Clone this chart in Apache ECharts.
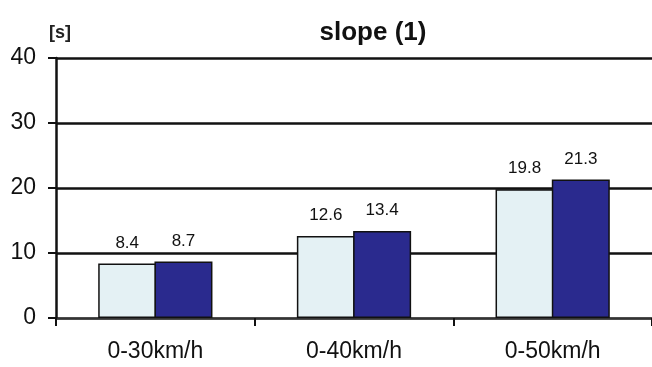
<!DOCTYPE html>
<html><head><meta charset="utf-8">
<script src="https://cdn.jsdelivr.net/npm/echarts@6/dist/echarts.min.js"></script>
<style>html,body{margin:0;padding:0;background:#fff}#c{width:652px;height:367px}</style>
</head><body><div id="c"></div>
<script>
const categories = ['0-30km/h', '0-40km/h', '0-50km/h'];
const seriesA = [8.4, 12.6, 19.8];
const seriesB = [8.7, 13.4, 21.3];
const yTicks = [0, 10, 20, 30, 40];
const titleText = 'slope (1)';
const unitText = '[s]';

const chart = echarts.init(document.getElementById('c'));
const font = '"Liberation Sans", Arial, sans-serif';
chart.setOption({
  animation: false,
  backgroundColor: '#ffffff',
  title: [
    {text: titleText, left: 368, top: 15, textAlign: 'center',
     textStyle: {fontFamily: font, fontSize: 26, fontWeight: 'bold', color: '#111'}},
    {text: unitText, left: 55, top: 19, textAlign: 'center',
     textStyle: {fontFamily: font, fontSize: 18, fontWeight: 'bold', color: '#222'}}
  ],
  grid: {left: 56, top: 58, width: 603, height: 260},
  xAxis: {
    type: 'category', data: categories,
    axisLine: {show: true, lineStyle: {color: '#333', width: 1}},
    axisTick: {show: true, length: 8, lineStyle: {color: '#111', width: 2}},
    axisLabel: {fontFamily: font, fontSize: 23, color: '#111', margin: 22}
  },
  yAxis: {
    type: 'value', min: yTicks[0], max: yTicks[yTicks.length - 1], interval: 10,
    axisLine: {show: true, lineStyle: {color: '#111', width: 2.5}},
    axisTick: {show: true, length: 8, lineStyle: {color: '#111', width: 2}},
    axisLabel: {fontFamily: font, fontSize: 23, color: '#111', margin: 20},
    splitLine: {show: true, lineStyle: {color: '#111', width: 2.5}}
  },
  series: [
    {type: 'bar', data: seriesA, barWidth: 58, barGap: '-3%',
     itemStyle: {color: '#e4f1f4', borderColor: '#111', borderWidth: 1.5},
     label: {show: true, position: 'top', distance: 12, fontFamily: font, fontSize: 17, color: '#111'}},
    {type: 'bar', data: seriesB, barWidth: 58, barGap: '-3%',
     itemStyle: {color: '#2a2a8e', borderColor: '#111', borderWidth: 1.5},
     label: {show: true, position: 'top', distance: 12, fontFamily: font, fontSize: 17, color: '#111'}}
  ]
});
</script></body></html>
